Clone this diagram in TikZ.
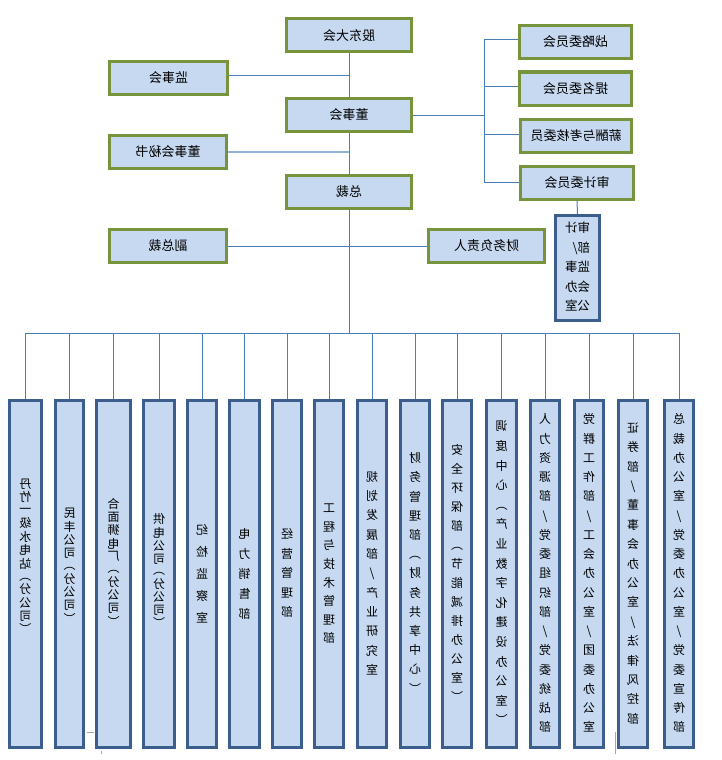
\documentclass[tikz,border=0pt]{standalone}
\usepackage{fontspec}
\setmainfont{Noto Sans CJK SC}
\usepackage{graphicx}
\definecolor{fillc}{HTML}{C6D9F1}
\definecolor{greenc}{HTML}{77933C}
\definecolor{bluebd}{HTML}{3B5E8C}
\definecolor{linec}{HTML}{4A7EBB}
\definecolor{lightline}{HTML}{95B3D7}
\definecolor{artc}{HTML}{A6A6A6}
\newcommand\rt[1]{\reflectbox{#1}}
% #1 = raise, #2 = line pitch, #3 = rows
\newcommand\vtx[3][-3pt]{\smash{\raisebox{#1}{\reflectbox{\fontsize{12pt}{#2}\selectfont\begin{tabular}{@{}c@{}}#3\end{tabular}}}}}
\newcommand\vtl[2]{\reflectbox{\fontsize{12.5pt}{#1}\selectfont\begin{tabular}{@{}l@{}}#2\end{tabular}}}
\tikzset{
  gbox/.style={draw=greenc, line width=3pt, fill=fillc, inner sep=0pt,
    minimum height=33pt, font=\fontsize{13pt}{15pt}\selectfont},
  bbox/.style={draw=bluebd, line width=3pt, fill=fillc, inner sep=0pt,
    minimum height=347pt},
  conn/.style={draw=linec, line width=1pt},
  lconn/.style={draw=lightline, line width=2pt},
  artline/.style={draw=artc, line width=1pt}
}
\begin{document}
\begin{tikzpicture}[x=1pt,y=-1pt]
\useasboundingbox (0,0) rectangle (721,760);
% top chain
\node[gbox, minimum width=125pt] (gd) at (349,35.5) {\rt{股东大会}};
\node[gbox, minimum width=118pt] (jsh) at (168.5,78) {\rt{监事会}};
\node[gbox, minimum width=125pt] (dsh) at (349,115) {\rt{董事会}};
\node[gbox, minimum width=117pt] (ms) at (168,152) {\rt{董事会秘书}};
\node[gbox, minimum width=125pt] (zc) at (349,192) {\rt{总裁}};
\node[gbox, minimum width=117pt] (fzc) at (168,246) {\rt{副总裁}};
\node[gbox, minimum width=116pt] (cw) at (486.5,246) {\rt{财务负责人}};
% committees
\node[gbox, minimum width=112pt] (c1) at (575.5,42) {\rt{战略委员会}};
\node[gbox, minimum width=112pt] (c2) at (575.5,88.5) {\rt{提名委员会}};
\node[gbox, minimum width=111pt] (c3) at (576,135.5) {\rt{薪酬与考核委员}};
\node[gbox, minimum width=113pt] (c4) at (577,183) {\rt{审计委员会}};
\node[draw=bluebd, line width=3pt, fill=fillc, inner sep=0pt,
  minimum width=44pt, minimum height=105pt] (sj) at (577.5,268)
  {\vtl{19.5pt}{审计\\部/\\监事\\会办\\公室}};
% bottom boxes
\node[bbox, minimum width=32pt] (b1) at (25.5,574) {\vtx[13pt]{12pt}{丹\\竹\\一\\级\\水\\电\\站\\︵\\分\\公\\司\\︶}};
\node[bbox, minimum width=28pt] (b2) at (69.5,574) {\vtx[3.5pt]{12pt}{民\\丰\\公\\司\\︵\\分\\公\\司\\︶}};
\node[bbox, minimum width=34pt] (b3) at (113.5,574) {\vtx[7pt]{12pt}{合\\面\\狮\\电\\厂\\︵\\分\\公\\司\\︶}};
\node[bbox, minimum width=31pt] (b4) at (159,574) {\vtx[-1.5pt]{11.6pt}{供\\电\\公\\司\\︵\\分\\公\\司\\︶}};
\node[bbox, minimum width=29pt] (b5) at (202,574) {\vtx{22pt}{纪\\检\\监\\察\\室}};
\node[bbox, minimum width=30pt] (b6) at (244.5,574) {\vtx{20pt}{电\\力\\销\\售\\部}};
\node[bbox, minimum width=29pt] (b7) at (287,574) {\vtx{19.5pt}{经\\营\\管\\理\\部}};
\node[bbox, minimum width=29pt] (b8) at (329,574) {\vtx{18.6pt}{工\\程\\与\\技\\术\\管\\理\\部}};
\node[bbox, minimum width=29pt] (b9) at (372,574) {\vtx{19.3pt}{规\\划\\发\\展\\部\\/\\产\\业\\研\\究\\室}};
\node[bbox, minimum width=29pt] (b10) at (415,574) {\vtx{19.2pt}{财\\务\\管\\理\\部\\︵\\财\\务\\共\\享\\中\\心\\︶}};
\node[bbox, minimum width=29pt] (b11) at (457,574) {\vtx{19pt}{安\\全\\环\\保\\部\\︵\\节\\能\\减\\排\\办\\公\\室\\︶}};
\node[bbox, minimum width=30pt] (b12) at (501.5,574) {\vtx{19.6pt}{调\\度\\中\\心\\︵\\产\\业\\数\\字\\化\\建\\设\\办\\公\\室\\︶}};
\node[bbox, minimum width=29pt] (b13) at (545,574) {\vtx{19.25pt}{人\\力\\资\\源\\部\\/\\党\\委\\组\\织\\部\\/\\党\\委\\统\\战\\部}};
\node[bbox, minimum width=29pt] (b14) at (589,574) {\vtx{19.25pt}{党\\群\\工\\作\\部\\/\\工\\会\\办\\公\\室\\/\\团\\委\\办\\公\\室}};
\node[bbox, minimum width=29pt] (b15) at (633,574) {\vtx{19.4pt}{证\\券\\部\\/\\董\\事\\会\\办\\公\\室\\/\\法\\律\\风\\控\\部}};
\node[bbox, minimum width=29pt] (b16) at (679,574) {\vtx{19.25pt}{总\\裁\\办\\公\\室\\/\\党\\委\\办\\公\\室\\/\\党\\委\\宣\\传\\部}};
% coordinates
\coordinate (busC) at (349,333);
\coordinate (brx) at (484,113);
% trunk
\draw[conn] (gd.south) -- (dsh.north);
\draw[conn] (dsh.south) -- (zc.north);
\draw[conn] (zc.south) -- (busC);
\draw[conn] ([yshift=3pt]jsh.east) -- ([yshift=3pt]jsh.east -| gd.south);
\draw[lconn] (ms.east) -- (ms.east -| gd.south);
\draw[conn] (fzc.east) -- (cw.west);
% committees bracket
\draw[conn] (dsh.east) -- (dsh.east -| brx);
\draw[conn] ([yshift=2pt]brx |- c1.west) -- (brx |- c4.west);
\draw[conn] ([yshift=2pt]brx |- c1.west) -- ([yshift=2pt]c1.west);
\draw[conn] ([yshift=2pt]brx |- c2.west) -- ([yshift=2pt]c2.west);
\draw[conn] ([yshift=1.5pt]brx |- c3.west) -- ([yshift=1.5pt]c3.west);
\draw[conn] ([yshift=1pt]brx |- c4.west) -- ([yshift=1pt]c4.west);
\draw[conn] (c4.south) -- (sj.north);
% bus
\draw[conn] (busC -| b1.north) -- (busC -| b16.north);
\foreach \b in {b1,b2,b3,b4,b5,b6,b7,b8,b9,b10,b11,b12,b13,b14,b15,b16}
  \draw[conn] (busC -| \b.north) -- (\b.north);
% small gray marks
\draw[artline] ([xshift=1.5pt]b2.east |- 0,732) -- ([xshift=-1.5pt]b3.west |- 0,732);
\draw[artline] (101,750.5) -- (101,754);
\draw[artline] ([xshift=-1.5pt]b15.west |- 0,732) -- ([xshift=-1.5pt]b15.west |- 0,754);
\end{tikzpicture}
\end{document}
